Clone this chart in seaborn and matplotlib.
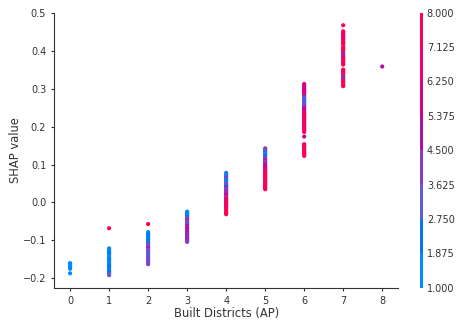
import numpy as np
import pandas as pd
import matplotlib
matplotlib.use("Agg")
import matplotlib.pyplot as plt
import seaborn as sns
from matplotlib.colors import LinearSegmentedColormap, ListedColormap, BoundaryNorm
from matplotlib.cm import ScalarMappable

# --- DATA ---
# SHAP values per "Built Districts (AP)" value, with the interaction feature value (1..8)
y_d0 = [-0.160, -0.163, -0.166, -0.169, -0.172, -0.175, -0.187]
c_d0 = [1, 1, 1, 1, 1, 1, 1]

y_d1 = [-0.121, -0.125, -0.128, -0.132, -0.135, -0.139, -0.142, -0.146, -0.149, -0.153,
        -0.156, -0.160, -0.163, -0.167, -0.170, -0.174, -0.177, -0.181, -0.184, -0.188,
        -0.192, -0.068]
c_d1 = [1, 1, 1, 1, 2, 1, 1, 1, 1, 2, 1, 1, 1, 2, 2, 2, 1, 2, 2, 3, 3, 8]

y_d2 = [-0.078, -0.082, -0.085, -0.089, -0.092, -0.096, -0.099, -0.103, -0.106, -0.110,
        -0.113, -0.117, -0.120, -0.124, -0.127, -0.131, -0.134, -0.138, -0.141, -0.145,
        -0.148, -0.152, -0.155, -0.159, -0.163, -0.057]
c_d2 = [1, 1, 2, 1, 2, 1, 2, 2, 3, 2, 3, 3, 6, 3, 4, 3, 3, 4, 3, 3, 4, 3, 4, 3, 4, 8]

y_d3 = [-0.024, -0.027, -0.031, -0.034, -0.038, -0.041, -0.045, -0.048, -0.052, -0.055,
        -0.059, -0.062, -0.066, -0.069, -0.073, -0.076, -0.080, -0.083, -0.087, -0.090,
        -0.094, -0.097, -0.101, -0.104]
c_d3 = [1, 1, 2, 1, 2, 3, 8, 4, 3, 4, 3, 5, 4, 5, 8, 4, 5, 4, 5, 4, 4, 5, 4, 4]

y_d4 = [0.078, 0.074, 0.071, 0.067, 0.064, 0.060, 0.057, 0.053, 0.050, 0.046,
        0.043, 0.039, 0.036, 0.032, 0.029, 0.025, 0.022, 0.018, 0.015, 0.011,
        0.008, 0.004, 0.001, -0.003, -0.006, -0.010, -0.013, -0.017, -0.020, -0.024,
        -0.027, -0.031]
c_d4 = [2, 1, 1, 4, 4, 2, 1, 2, 3, 4, 2, 5, 4, 3, 5, 4, 6, 5, 4, 7, 8, 6, 8, 8, 6, 8,
        7, 8, 8, 8, 8, 8]

y_d5 = [0.143, 0.139, 0.136, 0.132, 0.129, 0.125, 0.122, 0.118, 0.115, 0.111,
        0.108, 0.104, 0.101, 0.097, 0.094, 0.090, 0.087, 0.083, 0.080, 0.076,
        0.073, 0.069, 0.066, 0.062, 0.059, 0.055, 0.052, 0.048, 0.045, 0.041,
        0.038, 0.035]
c_d5 = [4, 4, 3, 2, 1, 3, 2, 4, 4, 5, 4, 4, 5, 6, 5, 6, 7, 6, 7, 8, 8, 8, 7, 8, 8, 8,
        8, 8, 8, 8, 8, 8]

y_d6 = [0.313, 0.309, 0.306, 0.302, 0.299, 0.295, 0.292, 0.288, 0.285, 0.281,
        0.278, 0.274, 0.271, 0.267, 0.264, 0.260, 0.257, 0.253, 0.250, 0.246,
        0.243, 0.239, 0.236, 0.232, 0.229, 0.225, 0.222, 0.218, 0.215, 0.211,
        0.208, 0.204, 0.201, 0.197, 0.194, 0.190, 0.186, 0.174, 0.154, 0.150,
        0.147, 0.143, 0.140, 0.136, 0.133, 0.129, 0.126, 0.123]
c_d6 = [7, 6, 5, 7, 6, 5, 6, 7, 6, 5, 3, 4, 3, 2, 3, 4, 3, 4, 5, 6, 5, 6, 7, 8, 7, 6,
        8, 7, 8, 6, 7, 8, 8, 7, 8, 7, 8, 5, 8, 8, 8, 8, 8, 8, 8, 8, 8, 8]

y_d7 = [0.468, 0.452, 0.449, 0.445, 0.442, 0.438, 0.435, 0.431, 0.428, 0.424,
        0.421, 0.417, 0.410, 0.406, 0.402, 0.396, 0.392, 0.389, 0.385, 0.381,
        0.378, 0.372, 0.368, 0.364, 0.351, 0.347, 0.344, 0.340, 0.337, 0.333,
        0.329, 0.326, 0.322, 0.318, 0.315, 0.310, 0.307]
c_d7 = [8, 8, 8, 7, 8, 6, 7, 6, 8, 7, 8, 8, 8, 7, 8, 8, 5, 4, 5, 8, 8, 8, 7, 8, 8, 8,
        7, 8, 8, 4, 5, 4, 8, 8, 7, 8, 8]

y_d8 = [0.359]
c_d8 = [5]

X_LABEL = "Built Districts (AP)"
Y_LABEL = "SHAP value"
AXIS_COLOR = "#333333"
# --------------------------------------


def lch2rgb(l, c, h):
    """LCH -> sRGB (D65), like skimage's lab2rgb."""
    a, b = c * np.cos(h), c * np.sin(h)
    fy = (l + 16.) / 116.
    fx = fy + a / 500.
    fz = max(fy - b / 200., 0.)
    f = np.array([fx, fy, fz])
    f = np.where(f > 0.2068966, f ** 3, (f - 16. / 116.) / 7.787)
    xyz = f * np.array([0.95047, 1.0, 1.08883])
    m = np.array([[3.24048134, -1.53715152, -0.49853633],
                  [-0.96925495, 1.87599, 0.04155593],
                  [0.05564664, -0.20404134, 1.05731107]])
    rgb = m @ xyz
    rgb = np.where(rgb > 0.0031308, 1.055 * np.power(np.clip(rgb, 1e-12, None), 1 / 2.4) - 0.055, 12.92 * rgb)
    return np.clip(rgb, 0, 1)


def shap_red_blue():
    nsteps = 100
    l_vals = list(np.linspace(54., 40., nsteps // 2)) + list(np.linspace(40., 54., nsteps // 2))
    c_vals = np.linspace(70., 90., nsteps)
    h_vals = np.linspace(4.6588, 0.35470565 + 2 * np.pi, nsteps)
    cols = [lch2rgb(l, c, h) for l, c, h in zip(l_vals, c_vals, h_vals)]
    return LinearSegmentedColormap.from_list("red_blue", cols)


def build_frame():
    ys = [y_d0, y_d1, y_d2, y_d3, y_d4, y_d5, y_d6, y_d7, y_d8]
    cs = [c_d0, c_d1, c_d2, c_d3, c_d4, c_d5, c_d6, c_d7, c_d8]
    rows = []
    for xv, (yy, cc) in enumerate(zip(ys, cs)):
        for yv, cv in zip(yy, cc):
            rows.append({"x": xv, "shap": yv, "color": cv})
    return pd.DataFrame(rows)


sns.set_style("ticks")
plt.rcParams['font.family'] = ['DejaVu Sans']

df = build_frame()

# discrete colour bands, same as a BoundaryNorm over the 1..8 range
base = shap_red_blue()
bounds = np.linspace(1, 8, 9)
idx = [int((255 - 1) / 7 * k) for k in range(8)]
band_cmap = ListedColormap([base(i / 255.) for i in idx])

fig = plt.figure(figsize=(4.59, 3.22), dpi=100)
ax = fig.add_axes([0.1187, 0.1065, 0.748, 0.854])
cax = fig.add_axes([0.914, 0.1065, 0.0068, 0.854])

sns.scatterplot(data=df, x="x", y="shap", hue="color", palette=band_cmap,
                hue_norm=(0.5, 8.5), s=9, linewidth=0, legend=False, ax=ax)

ax.set_xticks(range(9))
ax.set_yticks(np.arange(-0.2, 0.51, 0.1))
ax.set_xlabel(X_LABEL, fontsize=8.3, color=AXIS_COLOR, labelpad=0.5)
ax.set_ylabel(Y_LABEL, fontsize=8.3, color=AXIS_COLOR, labelpad=0.5)
sns.despine(ax=ax)
for sp in ["left", "bottom"]:
    ax.spines[sp].set_color(AXIS_COLOR)
    ax.spines[sp].set_linewidth(0.8)
ax.tick_params(colors=AXIS_COLOR, labelsize=7, length=2.5, width=0.8)

sm = ScalarMappable(norm=BoundaryNorm(bounds, 8), cmap=band_cmap)
cb = fig.colorbar(sm, cax=cax, ticks=bounds, format="%.3f")
cb.outline.set_visible(False)
cb.ax.tick_params(labelsize=7, length=0, colors=AXIS_COLOR, pad=3)

plt.savefig("out.png", dpi=100)
plt.close()
